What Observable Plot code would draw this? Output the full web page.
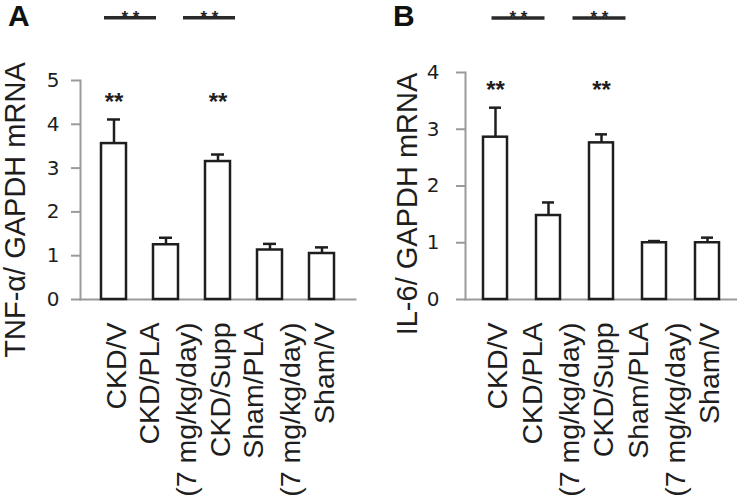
<!DOCTYPE html>
<html><head><meta charset="utf-8">
<script src="https://cdn.jsdelivr.net/npm/d3@7"></script>
<script src="https://cdn.jsdelivr.net/npm/@observablehq/plot@0.6"></script>
<style>
html,body{margin:0;padding:0;background:#fff;}
#fig{position:relative;width:737px;height:502px;overflow:hidden;background:#fff;}
.panel{position:absolute;top:0;}
.letter{position:absolute;top:1px;font:bold 30px/30px "Liberation Sans",Arial,sans-serif;color:#111;}
</style></head><body>
<div id="fig">
  <div class="panel" id="pA" style="left:0px"></div>
  <div class="panel" id="pB" style="left:370px"></div>
  <div class="letter" style="left:8px">A</div>
  <div class="letter" style="left:393px">B</div>
</div>
<script>
// ---- data ----
const categories = ["CKD/V", "CKD/PLA\n(7 mg/kg/day)", "CKD/Supp", "Sham/PLA\n(7 mg/kg/day)", "Sham/V"];
const tnfMean = [3.56, 1.25, 3.15, 1.13, 1.05];
const tnfErr  = [0.55, 0.16, 0.16, 0.14, 0.14];
const il6Mean = [2.86, 1.48, 2.76, 1.00, 1.00];
const il6Err  = [0.52, 0.23, 0.15, 0.03, 0.09];
const starred = ["CKD/V", "CKD/Supp"];           // "**" above bars
const comparisons = [                              // "—**—" brackets at top
  {from: "CKD/V", to: "CKD/PLA\n(7 mg/kg/day)"},
  {from: "CKD/PLA\n(7 mg/kg/day)", to: "CKD/Supp"}
];
const tnfTicks = [0, 1, 2, 3, 4, 5];
const il6Ticks = [0, 1, 2, 3, 4];

function makePanel(cfg) {
  const data = categories.map((c, i) => ({cat: c, mean: cfg.means[i], err: cfg.errs[i]}));
  const stars = starred.map(c => ({cat: c, level: cfg.starLevel}));
  const ink = "#1e1e1e", axisGray = "#9a9a9a";
  const sigMarks = comparisons.flatMap((cmp, i) => [
    Plot.link([cmp], {x1: "from", x2: "to", y1: () => cfg.sigLevel, y2: () => cfg.sigLevel,
      dx: cfg.sigDx[i], stroke: "#2a2a2a", strokeWidth: 3.5}),
    Plot.text([cmp], {x: "from", y: () => cfg.sigLevel, text: () => "* *", dx: cfg.sigDx[i] + cfg.step / 2,
      fontSize: 17, fontWeight: "bold", fontFamily: "Liberation Sans", fill: ink})
  ]);
  return Plot.plot({
    width: cfg.width, height: 502,
    marginLeft: cfg.marginLeft, marginRight: cfg.marginRight,
    marginTop: cfg.marginTop, marginBottom: 203,
    style: {background: "transparent", color: ink, overflow: "visible"},
    x: {domain: categories, paddingInner: cfg.pi, paddingOuter: cfg.po, label: null},
    y: {domain: cfg.domain, label: null},
    marks: [
      Plot.frame({anchor: "left", stroke: axisGray, strokeWidth: 2}),
      Plot.frame({anchor: "bottom", stroke: axisGray, strokeWidth: 2}),
      Plot.axisY({ticks: cfg.ticks, tickFormat: d3.format("d"), tickSize: 9, tickPadding: cfg.tickPadding,
        stroke: axisGray, strokeWidth: 2, fill: ink, fontSize: 20, fontFamily: "DejaVu Sans", label: null}),
      Plot.axisX({tickRotate: -90, tickSize: 0, tickPadding: 23, fontSize: 28.5, lineHeight: 1.3,
        fontFamily: "Liberation Sans", fill: ink, label: null}),
      Plot.text([cfg.title], {frameAnchor: "left", textAnchor: "middle", lineAnchor: "middle", rotate: -90,
        dx: cfg.titleDx, dy: cfg.titleDy, fontSize: 29, fontFamily: "Liberation Sans", fill: ink}),
      Plot.ruleX(data, {x: "cat", y1: "mean", y2: d => d.mean + d.err, stroke: ink, strokeWidth: 2.5}),
      Plot.tickY(data, {x: "cat", y: d => d.mean + d.err, insetLeft: 6, insetRight: 6, stroke: ink, strokeWidth: 2.5}),
      Plot.barY(data, {x: "cat", y: "mean", fill: "white", stroke: ink, strokeWidth: 2.5}),
      Plot.text(stars, {x: "cat", y: "level", text: () => "**", fontSize: 24, fontWeight: "bold",
        fontFamily: "Liberation Sans", fill: ink}),
      ...sigMarks
    ]
  });
}

document.getElementById("pA").appendChild(makePanel({
  means: tnfMean, errs: tnfErr, domain: [0, 5], ticks: tnfTicks,
  width: 370, marginLeft: 80, marginRight: 15, marginTop: 80, pi: 0.52, po: 0.37, step: 52.75,
  tickPadding: 12, title: "TNF-α/ GAPDH mRNA", titleDx: -65, titleDy: 20,
  starLevel: 4.5, sigLevel: 6.43, sigDx: [-10, 17]
}));
document.getElementById("pB").appendChild(makePanel({
  means: il6Mean, errs: il6Err, domain: [0, 4], ticks: il6Ticks,
  width: 367, marginLeft: 95, marginRight: 1, marginTop: 72, pi: 0.55, po: 0.3, step: 53.75,
  tickPadding: 17, title: "IL-6/ GAPDH mRNA", titleDx: -58, titleDy: 18,
  starLevel: 3.69, sigLevel: 4.96, sigDx: [-4, 24]
}));
</script>
</body></html>
